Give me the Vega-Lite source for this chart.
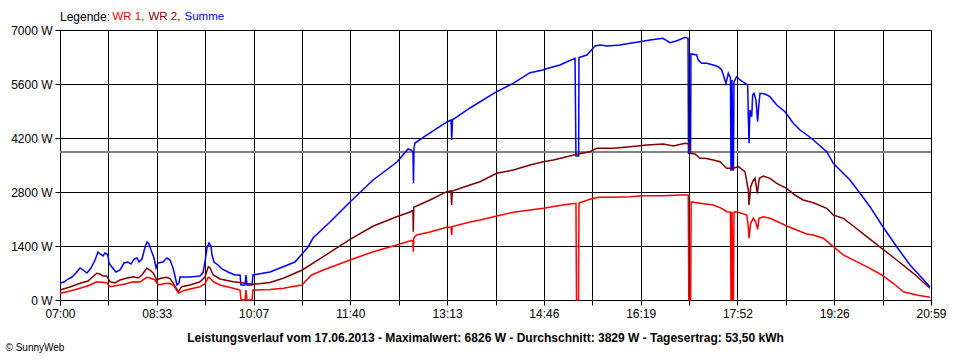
{
"$schema": "https://vega.github.io/schema/vega-lite/v6.json",
"width": 871, "height": 270,
"autosize": {"type": "none"},
"padding": {"left": 60, "top": 30, "right": 29, "bottom": 60},
"background": "white",
"config": {"font": "Liberation Sans", "view": {"stroke": "black", "strokeWidth": 1}},
"data": {"values": [
{"s":"Summe","t":420,"w":441},{"s":"Summe","t":423.9,"w":467},{"s":"Summe","t":427.7,"w":544},{"s":"Summe","t":431.6,"w":596},{"s":"Summe","t":435.4,"w":700},{"s":"Summe","t":439.3,"w":830},{"s":"Summe","t":442.2,"w":778},{"s":"Summe","t":446.0,"w":700},{"s":"Summe","t":449.9,"w":830},{"s":"Summe","t":453.8,"w":1037},{"s":"Summe","t":456.6,"w":1244},{"s":"Summe","t":458.6,"w":1193},{"s":"Summe","t":461.5,"w":1141},{"s":"Summe","t":463.4,"w":1219},{"s":"Summe","t":465.3,"w":1193},{"s":"Summe","t":466.3,"w":1141},{"s":"Summe","t":467.3,"w":959},{"s":"Summe","t":469.2,"w":881},{"s":"Summe","t":474.0,"w":726},{"s":"Summe","t":477.9,"w":778},{"s":"Summe","t":481.7,"w":959},{"s":"Summe","t":485.6,"w":985},{"s":"Summe","t":488.5,"w":933},{"s":"Summe","t":491.4,"w":1063},{"s":"Summe","t":494.3,"w":1089},{"s":"Summe","t":496.2,"w":985},{"s":"Summe","t":499.1,"w":1063},{"s":"Summe","t":502.0,"w":1374},{"s":"Summe","t":503.9,"w":1504},{"s":"Summe","t":505.8,"w":1452},{"s":"Summe","t":507.8,"w":1296},{"s":"Summe","t":510.7,"w":1089},{"s":"Summe","t":512.6,"w":830},{"s":"Summe","t":514.5,"w":959},{"s":"Summe","t":519.3,"w":985},{"s":"Summe","t":523.2,"w":1089},{"s":"Summe","t":526.1,"w":1037},{"s":"Summe","t":529.0,"w":830},{"s":"Summe","t":530.9,"w":622},{"s":"Summe","t":532.8,"w":389},{"s":"Summe","t":534.8,"w":441},{"s":"Summe","t":535.7,"w":596},{"s":"Summe","t":545.4,"w":596},{"s":"Summe","t":555.0,"w":622},{"s":"Summe","t":557.9,"w":700},{"s":"Summe","t":559.8,"w":985},{"s":"Summe","t":561.8,"w":1348},{"s":"Summe","t":563.7,"w":1478},{"s":"Summe","t":565.6,"w":1400},{"s":"Summe","t":566.6,"w":1167},{"s":"Summe","t":568.5,"w":985},{"s":"Summe","t":572.4,"w":907},{"s":"Summe","t":576.2,"w":804},{"s":"Summe","t":582.0,"w":726},{"s":"Summe","t":588.8,"w":648},{"s":"Summe","t":593.6,"w":648},{"s":"Summe","t":594.6,"w":389},{"s":"Summe","t":598.4,"w":389},{"s":"Summe","t":599.4,"w":648},{"s":"Summe","t":600.3,"w":389},{"s":"Summe","t":605.2,"w":389},{"s":"Summe","t":606.1,"w":648},{"s":"Summe","t":622.5,"w":726},{"s":"Summe","t":637.0,"w":881},{"s":"Summe","t":646.6,"w":985},{"s":"Summe","t":653.4,"w":1193},{"s":"Summe","t":659.2,"w":1374},{"s":"Summe","t":664.0,"w":1607},{"s":"Summe","t":680.4,"w":2022},{"s":"Summe","t":699.7,"w":2541},{"s":"Summe","t":721.9,"w":3111},{"s":"Summe","t":745.0,"w":3578},{"s":"Summe","t":755.6,"w":3915},{"s":"Summe","t":758.5,"w":3889},{"s":"Summe","t":760.4,"w":3837},{"s":"Summe","t":760.9,"w":3033},{"s":"Summe","t":761.4,"w":3950},{"s":"Summe","t":762.4,"w":4070},{"s":"Summe","t":773.9,"w":4278},{"s":"Summe","t":793.2,"w":4615},{"s":"Summe","t":797.1,"w":4667},{"s":"Summe","t":797.8,"w":4148},{"s":"Summe","t":798.5,"w":4667},{"s":"Summe","t":815.4,"w":4978},{"s":"Summe","t":839.5,"w":5375},{"s":"Summe","t":856.9,"w":5618},{"s":"Summe","t":873.3,"w":5893},{"s":"Summe","t":885.8,"w":5963},{"s":"Summe","t":890.6,"w":6007},{"s":"Summe","t":902.2,"w":6093},{"s":"Summe","t":908.9,"w":6178},{"s":"Summe","t":916.7,"w":6266},{"s":"Summe","t":917.6,"w":3733},{"s":"Summe","t":920.2,"w":3733},{"s":"Summe","t":920.5,"w":6287},{"s":"Summe","t":928.2,"w":6352},{"s":"Summe","t":936.0,"w":6585},{"s":"Summe","t":940.8,"w":6611},{"s":"Summe","t":947.5,"w":6585},{"s":"Summe","t":960.1,"w":6611},{"s":"Summe","t":969.7,"w":6655},{"s":"Summe","t":979.3,"w":6697},{"s":"Summe","t":989.0,"w":6741},{"s":"Summe","t":1001.5,"w":6785},{"s":"Summe","t":1008.3,"w":6671},{"s":"Summe","t":1015.0,"w":6723},{"s":"Summe","t":1022.8,"w":6811},{"s":"Summe","t":1025.7,"w":6785},{"s":"Summe","t":1026.1,"w":3803},{"s":"Summe","t":1028.1,"w":3803},{"s":"Summe","t":1028.5,"w":6378},{"s":"Summe","t":1034.0,"w":6352},{"s":"Summe","t":1035.5,"w":6222},{"s":"Summe","t":1038.8,"w":6137},{"s":"Summe","t":1043.6,"w":6137},{"s":"Summe","t":1050.0,"w":6093},{"s":"Summe","t":1054.9,"w":6049},{"s":"Summe","t":1058.1,"w":5963},{"s":"Summe","t":1059.7,"w":5833},{"s":"Summe","t":1062.3,"w":5618},{"s":"Summe","t":1064.5,"w":5878},{"s":"Summe","t":1066.6,"w":5756},{"s":"Summe","t":1067.1,"w":3370},{"s":"Summe","t":1067.6,"w":3370},{"s":"Summe","t":1068.1,"w":5704},{"s":"Summe","t":1069.1,"w":3370},{"s":"Summe","t":1069.5,"w":3370},{"s":"Summe","t":1070.0,"w":5652},{"s":"Summe","t":1072.6,"w":5789},{"s":"Summe","t":1075.8,"w":5704},{"s":"Summe","t":1080.7,"w":5618},{"s":"Summe","t":1083.2,"w":5574},{"s":"Summe","t":1083.8,"w":4752},{"s":"Summe","t":1084.5,"w":4063},{"s":"Summe","t":1085.4,"w":4926},{"s":"Summe","t":1087.1,"w":4752},{"s":"Summe","t":1088.0,"w":5315},{"s":"Summe","t":1089.3,"w":5359},{"s":"Summe","t":1091.2,"w":5185},{"s":"Summe","t":1092.8,"w":4623},{"s":"Summe","t":1093.8,"w":5011},{"s":"Summe","t":1095.1,"w":5359},{"s":"Summe","t":1099.9,"w":5341},{"s":"Summe","t":1104.7,"w":5271},{"s":"Summe","t":1111.2,"w":5056},{"s":"Summe","t":1119.2,"w":4882},{"s":"Summe","t":1127.2,"w":4581},{"s":"Summe","t":1133.7,"w":4407},{"s":"Summe","t":1141.7,"w":4252},{"s":"Summe","t":1146.5,"w":4148},{"s":"Summe","t":1159.4,"w":3845},{"s":"Summe","t":1165.8,"w":3544},{"s":"Summe","t":1172.2,"w":3370},{"s":"Summe","t":1181.9,"w":3111},{"s":"Summe","t":1191.5,"w":2766},{"s":"Summe","t":1201.2,"w":2419},{"s":"Summe","t":1212.5,"w":1944},{"s":"Summe","t":1226.9,"w":1382},{"s":"Summe","t":1239.8,"w":907},{"s":"Summe","t":1259.0,"w":345},
{"s":"WR 2","t":420,"w":259},{"s":"WR 2","t":429.6,"w":337},{"s":"WR 2","t":439.3,"w":433},{"s":"WR 2","t":447.0,"w":493},{"s":"WR 2","t":455.4,"w":692},{"s":"WR 2","t":458.6,"w":674},{"s":"WR 2","t":461.5,"w":622},{"s":"WR 2","t":465.0,"w":622},{"s":"WR 2","t":468.2,"w":474},{"s":"WR 2","t":473.0,"w":441},{"s":"WR 2","t":477.9,"w":519},{"s":"WR 2","t":484.6,"w":570},{"s":"WR 2","t":490.7,"w":604},{"s":"WR 2","t":495.2,"w":570},{"s":"WR 2","t":499.1,"w":648},{"s":"WR 2","t":503.6,"w":822},{"s":"WR 2","t":506.8,"w":778},{"s":"WR 2","t":510.0,"w":692},{"s":"WR 2","t":513.3,"w":519},{"s":"WR 2","t":516.4,"w":557},{"s":"WR 2","t":522.9,"w":589},{"s":"WR 2","t":526.1,"w":557},{"s":"WR 2","t":529.3,"w":433},{"s":"WR 2","t":531.9,"w":311},{"s":"WR 2","t":534.1,"w":215},{"s":"WR 2","t":537.4,"w":345},{"s":"WR 2","t":545.4,"w":389},{"s":"WR 2","t":555.0,"w":474},{"s":"WR 2","t":559.8,"w":596},{"s":"WR 2","t":563.0,"w":863},{"s":"WR 2","t":564.7,"w":830},{"s":"WR 2","t":567.8,"w":648},{"s":"WR 2","t":574.3,"w":544},{"s":"WR 2","t":587.1,"w":474},{"s":"WR 2","t":606.4,"w":407},{"s":"WR 2","t":622.5,"w":454},{"s":"WR 2","t":635.4,"w":563},{"s":"WR 2","t":653.7,"w":778},{"s":"WR 2","t":673.9,"w":1123},{"s":"WR 2","t":699.7,"w":1574},{"s":"WR 2","t":722.2,"w":1919},{"s":"WR 2","t":744.7,"w":2160},{"s":"WR 2","t":757.5,"w":2282},{"s":"WR 2","t":760.4,"w":2333},{"s":"WR 2","t":760.7,"w":1771},{"s":"WR 2","t":761.2,"w":2411},{"s":"WR 2","t":764.0,"w":2437},{"s":"WR 2","t":776.8,"w":2593},{"s":"WR 2","t":792.9,"w":2808},{"s":"WR 2","t":797.1,"w":2826},{"s":"WR 2","t":797.7,"w":2463},{"s":"WR 2","t":798.3,"w":2826},{"s":"WR 2","t":815.4,"w":2982},{"s":"WR 2","t":825.0,"w":3067},{"s":"WR 2","t":841.2,"w":3285},{"s":"WR 2","t":857.2,"w":3370},{"s":"WR 2","t":873.3,"w":3500},{"s":"WR 2","t":886.1,"w":3586},{"s":"WR 2","t":895.7,"w":3630},{"s":"WR 2","t":908.7,"w":3715},{"s":"WR 2","t":918.3,"w":3777},{"s":"WR 2","t":931.1,"w":3845},{"s":"WR 2","t":937.6,"w":3933},{"s":"WR 2","t":953.6,"w":3933},{"s":"WR 2","t":969.7,"w":3974},{"s":"WR 2","t":985.8,"w":4019},{"s":"WR 2","t":1001.8,"w":4044},{"s":"WR 2","t":1011.5,"w":3993},{"s":"WR 2","t":1022.8,"w":4063},{"s":"WR 2","t":1026.9,"w":4044},{"s":"WR 2","t":1028.2,"w":3803},{"s":"WR 2","t":1032.4,"w":3785},{"s":"WR 2","t":1037.2,"w":3674},{"s":"WR 2","t":1042.0,"w":3674},{"s":"WR 2","t":1050.0,"w":3630},{"s":"WR 2","t":1056.5,"w":3586},{"s":"WR 2","t":1059.7,"w":3500},{"s":"WR 2","t":1063.0,"w":3414},{"s":"WR 2","t":1069.3,"w":3414},{"s":"WR 2","t":1074.2,"w":3456},{"s":"WR 2","t":1080.6,"w":3326},{"s":"WR 2","t":1083.8,"w":2852},{"s":"WR 2","t":1084.5,"w":2463},{"s":"WR 2","t":1086.1,"w":2937},{"s":"WR 2","t":1088.0,"w":3067},{"s":"WR 2","t":1090.3,"w":3155},{"s":"WR 2","t":1092.5,"w":2766},{"s":"WR 2","t":1094.4,"w":3155},{"s":"WR 2","t":1098.3,"w":3215},{"s":"WR 2","t":1104.7,"w":3155},{"s":"WR 2","t":1111.2,"w":3025},{"s":"WR 2","t":1120.8,"w":2896},{"s":"WR 2","t":1128.8,"w":2722},{"s":"WR 2","t":1136.8,"w":2593},{"s":"WR 2","t":1146.5,"w":2523},{"s":"WR 2","t":1159.4,"w":2377},{"s":"WR 2","t":1165.8,"w":2204},{"s":"WR 2","t":1175.4,"w":2118},{"s":"WR 2","t":1185.1,"w":1919},{"s":"WR 2","t":1198.0,"w":1641},{"s":"WR 2","t":1212.5,"w":1340},{"s":"WR 2","t":1226.9,"w":1037},{"s":"WR 2","t":1243.0,"w":692},{"s":"WR 2","t":1259.0,"w":303},
{"s":"WR 1","t":420,"w":174},{"s":"WR 1","t":429.6,"w":233},{"s":"WR 1","t":439.3,"w":303},{"s":"WR 1","t":448.9,"w":389},{"s":"WR 1","t":455.4,"w":474},{"s":"WR 1","t":465.0,"w":449},{"s":"WR 1","t":468.2,"w":345},{"s":"WR 1","t":477.9,"w":389},{"s":"WR 1","t":484.6,"w":428},{"s":"WR 1","t":490.7,"w":474},{"s":"WR 1","t":497.2,"w":467},{"s":"WR 1","t":503.6,"w":589},{"s":"WR 1","t":506.8,"w":570},{"s":"WR 1","t":511.6,"w":519},{"s":"WR 1","t":514.8,"w":389},{"s":"WR 1","t":521.3,"w":428},{"s":"WR 1","t":526.1,"w":433},{"s":"WR 1","t":529.9,"w":363},{"s":"WR 1","t":532.5,"w":259},{"s":"WR 1","t":534.1,"w":174},{"s":"WR 1","t":538.9,"w":241},{"s":"WR 1","t":545.4,"w":285},{"s":"WR 1","t":555.0,"w":345},{"s":"WR 1","t":559.8,"w":415},{"s":"WR 1","t":563.0,"w":589},{"s":"WR 1","t":564.7,"w":570},{"s":"WR 1","t":567.8,"w":474},{"s":"WR 1","t":574.3,"w":389},{"s":"WR 1","t":587.1,"w":303},{"s":"WR 1","t":593.6,"w":259},{"s":"WR 1","t":594.6,"w":0},{"s":"WR 1","t":598.4,"w":0},{"s":"WR 1","t":599.4,"w":259},{"s":"WR 1","t":600.3,"w":0},{"s":"WR 1","t":605.2,"w":0},{"s":"WR 1","t":606.1,"w":259},{"s":"WR 1","t":622.5,"w":272},{"s":"WR 1","t":635.4,"w":303},{"s":"WR 1","t":644.7,"w":350},{"s":"WR 1","t":653.4,"w":389},{"s":"WR 1","t":657.9,"w":519},{"s":"WR 1","t":662.7,"w":648},{"s":"WR 1","t":673.9,"w":778},{"s":"WR 1","t":699.7,"w":1037},{"s":"WR 1","t":722.2,"w":1252},{"s":"WR 1","t":744.7,"w":1426},{"s":"WR 1","t":757.5,"w":1530},{"s":"WR 1","t":760.4,"w":1543},{"s":"WR 1","t":760.7,"w":1252},{"s":"WR 1","t":761.2,"w":1607},{"s":"WR 1","t":764.0,"w":1685},{"s":"WR 1","t":776.8,"w":1763},{"s":"WR 1","t":792.9,"w":1885},{"s":"WR 1","t":797.1,"w":1893},{"s":"WR 1","t":797.7,"w":1685},{"s":"WR 1","t":798.3,"w":1906},{"s":"WR 1","t":815.4,"w":2022},{"s":"WR 1","t":825.0,"w":2074},{"s":"WR 1","t":841.2,"w":2178},{"s":"WR 1","t":857.2,"w":2274},{"s":"WR 1","t":873.3,"w":2333},{"s":"WR 1","t":886.1,"w":2377},{"s":"WR 1","t":899.0,"w":2437},{"s":"WR 1","t":911.8,"w":2489},{"s":"WR 1","t":917.6,"w":2507},{"s":"WR 1","t":918.1,"w":0},{"s":"WR 1","t":920.0,"w":0},{"s":"WR 1","t":920.5,"w":2515},{"s":"WR 1","t":931.1,"w":2611},{"s":"WR 1","t":939.1,"w":2663},{"s":"WR 1","t":953.6,"w":2663},{"s":"WR 1","t":969.7,"w":2678},{"s":"WR 1","t":982.5,"w":2704},{"s":"WR 1","t":1001.8,"w":2704},{"s":"WR 1","t":1017.9,"w":2722},{"s":"WR 1","t":1025.9,"w":2722},{"s":"WR 1","t":1026.4,"w":0},{"s":"WR 1","t":1028.2,"w":0},{"s":"WR 1","t":1028.7,"w":2541},{"s":"WR 1","t":1037.2,"w":2507},{"s":"WR 1","t":1050.0,"w":2463},{"s":"WR 1","t":1058.1,"w":2377},{"s":"WR 1","t":1063.0,"w":2289},{"s":"WR 1","t":1066.6,"w":2282},{"s":"WR 1","t":1067.1,"w":0},{"s":"WR 1","t":1067.6,"w":0},{"s":"WR 1","t":1068.1,"w":2282},{"s":"WR 1","t":1069.1,"w":0},{"s":"WR 1","t":1069.5,"w":0},{"s":"WR 1","t":1070.0,"w":2282},{"s":"WR 1","t":1071.0,"w":2289},{"s":"WR 1","t":1075.8,"w":2263},{"s":"WR 1","t":1082.3,"w":2204},{"s":"WR 1","t":1083.8,"w":1900},{"s":"WR 1","t":1084.5,"w":1600},{"s":"WR 1","t":1086.1,"w":1989},{"s":"WR 1","t":1088.6,"w":2118},{"s":"WR 1","t":1090.9,"w":2030},{"s":"WR 1","t":1092.8,"w":1833},{"s":"WR 1","t":1094.1,"w":2118},{"s":"WR 1","t":1098.3,"w":2160},{"s":"WR 1","t":1104.7,"w":2118},{"s":"WR 1","t":1114.3,"w":2004},{"s":"WR 1","t":1120.8,"w":1919},{"s":"WR 1","t":1130.5,"w":1815},{"s":"WR 1","t":1140.1,"w":1711},{"s":"WR 1","t":1146.5,"w":1685},{"s":"WR 1","t":1156.2,"w":1600},{"s":"WR 1","t":1165.8,"w":1382},{"s":"WR 1","t":1175.4,"w":1167},{"s":"WR 1","t":1188.3,"w":993},{"s":"WR 1","t":1201.2,"w":822},{"s":"WR 1","t":1212.5,"w":648},{"s":"WR 1","t":1223.6,"w":433},{"s":"WR 1","t":1233.3,"w":215},{"s":"WR 1","t":1246.2,"w":130},{"s":"WR 1","t":1259.0,"w":70}
]},
"layer": [
{"mark": {"type": "rule", "color": "#808080", "strokeWidth": 1},
 "encoding": {"y": {"datum": 3829, "type": "quantitative",
   "axis": {
    "values": [0, 1400, 2800, 4200, 5600, 7000],
    "labelExpr": "datum.value + ' W'",
    "grid": true, "gridColor": "black", "gridOpacity": 1, "gridWidth": 1,
    "domainColor": "black", "tickColor": "black", "tickSize": 5,
    "labelColor": "black", "labelFontSize": 12, "labelPadding": 3, "labelFlush": false, "labelOverlap": false,
    "title": "© SunnyWeb", "titleFontWeight": "normal", "titleFontSize": 10, "titleColor": "black",
    "titleAngle": 0, "titleX": -55, "titleY": 317, "titleAlign": "left", "titleBaseline": "middle"
   }}}},
{"mark": {"type": "line", "strokeWidth": 1.5},
 "encoding": {
  "x": {"field": "t", "type": "quantitative",
   "scale": {"domain": [420, 1260], "nice": false, "zero": false},
   "axis": {
    "values": [420, 466.667, 513.333, 560, 606.667, 653.333, 700, 746.667, 793.333, 840, 886.667, 933.333, 980, 1026.667, 1073.333, 1120, 1166.667, 1213.333, 1260],
    "labelExpr": "round((datum.value-420)/46.6667) % 2 == 0 ? ['07:00','08:33','10:07','11:40','13:13','14:46','16:19','17:52','19:26','20:59'][round((datum.value-420)/93.3333)] : ''",
    "grid": true, "gridColor": "black", "gridOpacity": 1, "gridWidth": 1,
    "domainColor": "black", "tickColor": "black", "tickSize": 5,
    "labelColor": "black", "labelFontSize": 12, "labelPadding": 3, "labelFlush": false, "labelOverlap": false,
    "title": "Leistungsverlauf vom 17.06.2013 - Maximalwert: 6826 W - Durchschnitt: 3829 W - Tagesertrag: 53,50 kWh",
    "titleFontWeight": "bold", "titleFontSize": 12, "titleColor": "black",
    "titleX": 425, "titleY": 37, "titleAlign": "center", "titleBaseline": "middle", "titleAngle": 0
   }},
  "y": {"field": "w", "type": "quantitative",
   "scale": {"domain": [0, 7000], "nice": false},
   "axis": {
    "values": [0, 1400, 2800, 4200, 5600, 7000],
    "labelExpr": "datum.value + ' W'",
    "grid": true, "gridColor": "black", "gridOpacity": 1, "gridWidth": 1,
    "domainColor": "black", "tickColor": "black", "tickSize": 5,
    "labelColor": "black", "labelFontSize": 12, "labelPadding": 3, "labelFlush": false, "labelOverlap": false,
    "title": "© SunnyWeb", "titleFontWeight": "normal", "titleFontSize": 10, "titleColor": "black",
    "titleAngle": 0, "titleX": -55, "titleY": 317, "titleAlign": "left", "titleBaseline": "middle"
   }},
  "color": {"field": "s", "type": "nominal",
   "scale": {"domain": ["WR 1", "WR 2", "Summe"], "range": ["#ff0000", "#800000", "#0000ff"]},
   "legend": {
    "orient": "none", "legendX": 0, "legendY": -19, "direction": "horizontal", "gridAlign": "none",
    "title": "Legende:", "titleOrient": "left", "titleFontWeight": "normal", "titleFontSize": 12, "titleColor": "black", "titlePadding": -10,
    "labelFontSize": 11.5, "labelOffset": 0, "columnPadding": -8,
    "symbolSize": 0, "symbolOpacity": 0, "symbolStrokeWidth": 0,
    "labelExpr": "datum.label == 'Summe' ? datum.label : datum.label + ','",
    "encode": {"labels": {"update": {"fill": {"scale": "color", "field": "value"}}}}
   }}
 }}
]
}
